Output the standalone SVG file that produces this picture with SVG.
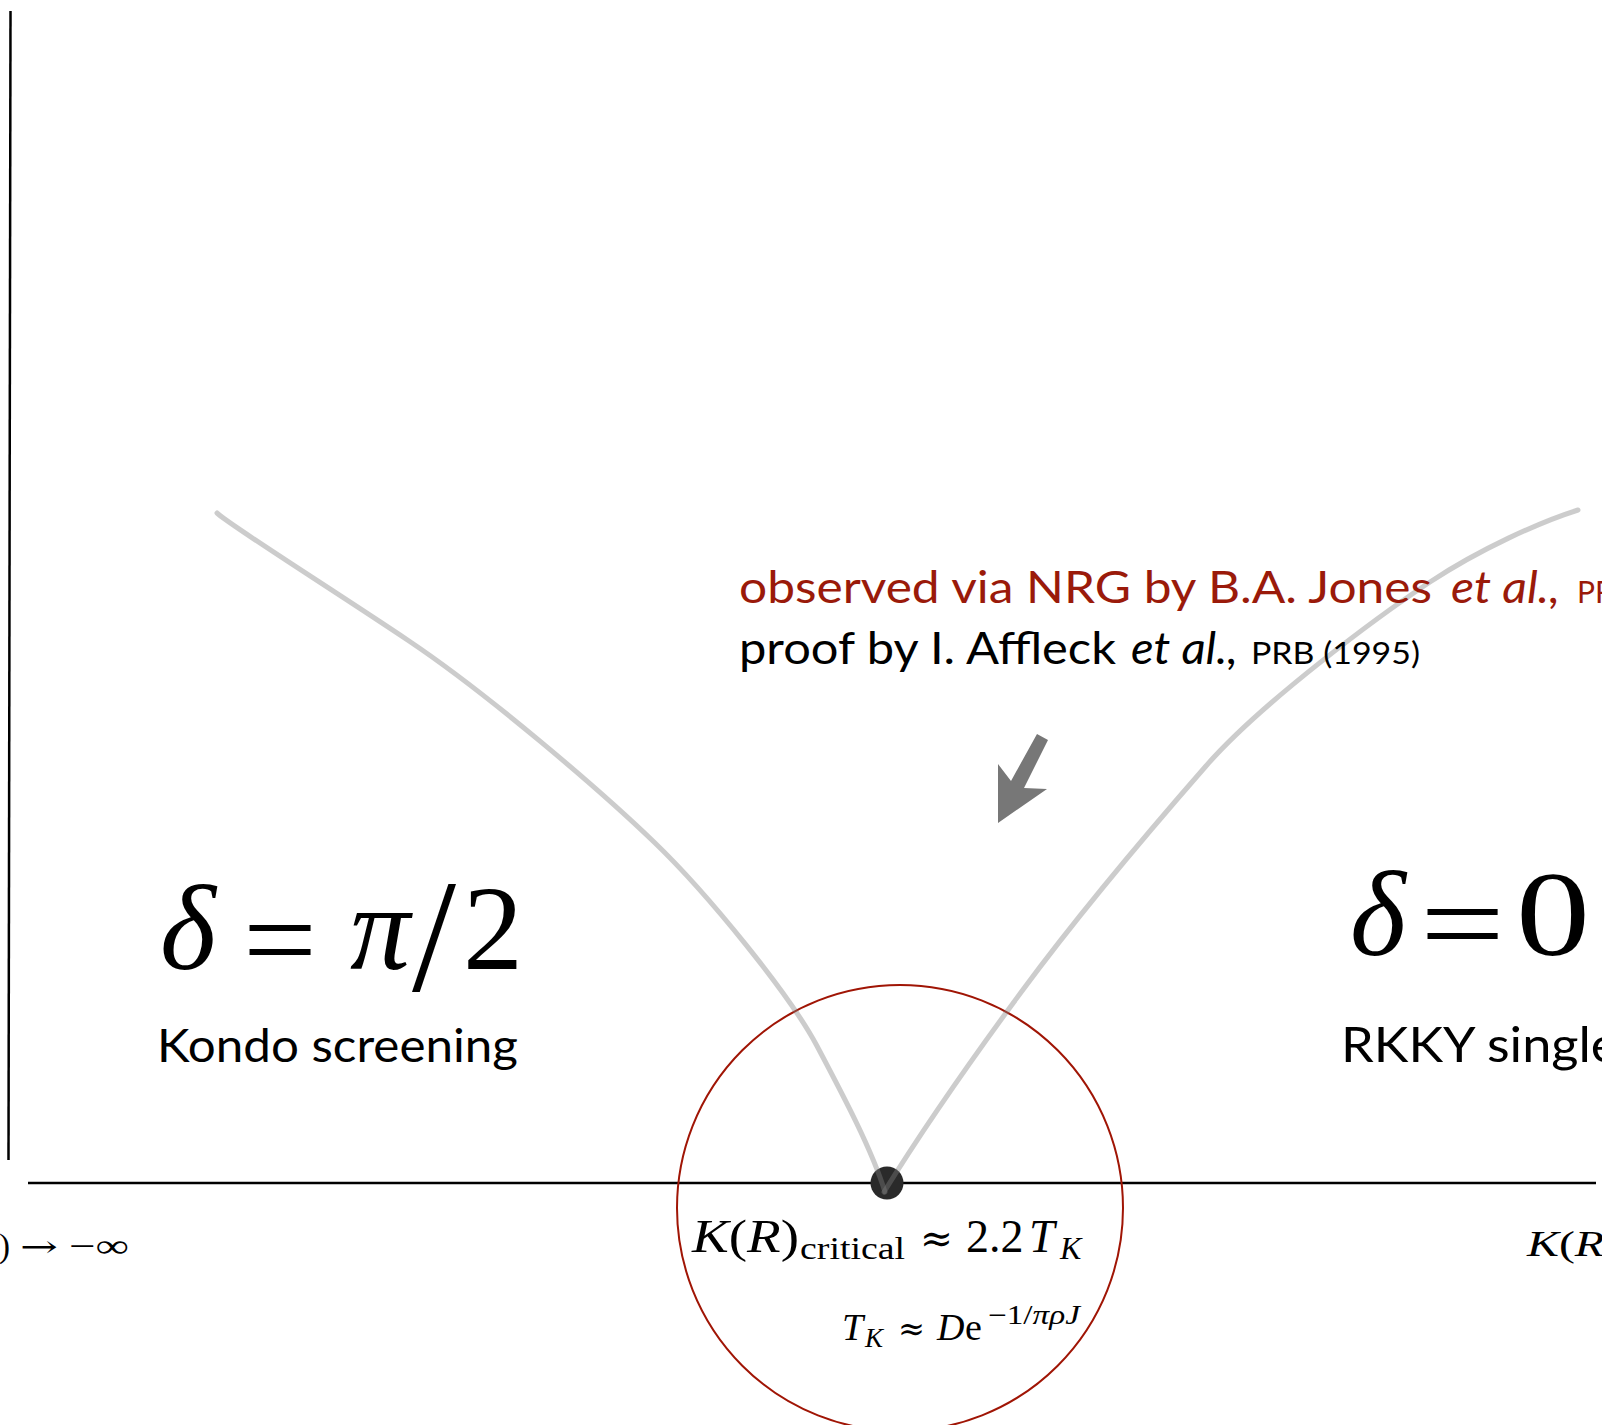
<svg xmlns="http://www.w3.org/2000/svg" width="1602" height="1425" viewBox="0 0 1602 1425">
<style>
.gs{font-family:Lato,"Open Sans","Noto Sans",sans-serif;}
.red{fill:#9a1a0a;}
.blk{fill:#000;}
.it{font-style:italic;}
.m{font-family:"Liberation Serif","DejaVu Serif",serif;fill:#000;}
.dv{font-family:"DejaVu Serif",serif;}
.mi{font-style:italic;}
.curve{fill:none;stroke:#808080;stroke-opacity:0.4;stroke-width:5;stroke-linecap:round;}
</style>
<rect width="1602" height="1425" fill="#fff"/>
<g id="axes">
<line x1="10.5" y1="11" x2="8.5" y2="1160" stroke="#000" stroke-width="2.5"/>
<line x1="28" y1="1183" x2="1596" y2="1183" stroke="#000" stroke-width="2.5"/>
</g>
<g id="critical-circle">
<circle cx="900" cy="1208" r="223" fill="none" stroke="#a01505" stroke-width="2"/>
</g>
<g id="critical-point">
<circle cx="887" cy="1183" r="16.5" fill="#2a2a2a"/>
</g>
<g id="connectors">
<path class="curve" d="M217,513 C225,522 330,588 409,641 S600,790 654,842 S790,995 817,1046 S872,1150 885,1192"/>
<path class="curve" d="M884,1192 C910,1150 960,1075 1022,991 S1150,830 1206,766 S1380,615 1430,582 S1540,522 1578,510"/>
<polygon points="998,823 998,764 1011,781 1037,734 1048,740 1024,788 1047,789" fill="#777"/>
</g>
<g id="reference-note">
<text class="gs red" x="739" y="603" font-size="45" textLength="693" lengthAdjust="spacingAndGlyphs">observed via NRG by B.A. Jones</text>
<text class="gs red it" x="1451" y="603" font-size="45" textLength="109" lengthAdjust="spacingAndGlyphs">et al.,</text>
<text class="gs red" x="1577" y="603" font-size="30">PR</text>
<text class="gs blk" x="739" y="664" font-size="45" textLength="377" lengthAdjust="spacingAndGlyphs">proof by I. Affleck</text>
<text class="gs blk it" x="1131" y="664" font-size="45" textLength="107" lengthAdjust="spacingAndGlyphs">et al.,</text>
<text class="gs blk" x="1251" y="664" font-size="31" textLength="169" lengthAdjust="spacingAndGlyphs">PRB (1995)</text>
</g>
<g id="kondo-phase">
<text class="m mi" x="160" y="969" font-size="120">δ</text>
<text class="m" x="243" y="980" font-size="120" textLength="74" lengthAdjust="spacingAndGlyphs">=</text>
<text class="m mi" x="350" y="969" font-size="120">π</text>
<text class="m" x="412" y="990" font-size="162" textLength="44" lengthAdjust="spacingAndGlyphs">/</text>
<text class="m" x="463" y="969" font-size="120">2</text>
<text class="gs blk" x="157" y="1062" font-size="46" textLength="361" lengthAdjust="spacingAndGlyphs">Kondo screening</text>
</g>
<g id="rkky-phase">
<text class="m mi" x="1350" y="955" font-size="120">δ</text>
<text class="m" x="1420" y="964" font-size="120" textLength="85" lengthAdjust="spacingAndGlyphs">=</text>
<text class="m" x="1516" y="955" font-size="120" textLength="74" lengthAdjust="spacingAndGlyphs">0</text>
<text class="gs blk" x="1341" y="1062" font-size="49" textLength="296" lengthAdjust="spacingAndGlyphs">RKKY singlet</text>
</g>
<g id="critical-label">
<text class="m" y="1252" font-size="46"><tspan x="692" textLength="107" lengthAdjust="spacingAndGlyphs"><tspan class="mi">K</tspan>(<tspan class="mi">R</tspan>)</tspan><tspan x="800" y="1259" font-size="32" textLength="105" lengthAdjust="spacingAndGlyphs">critical</tspan><tspan class="dv" x="920" y="1252" font-size="40" textLength="33" lengthAdjust="spacingAndGlyphs">≈</tspan><tspan x="966">2.2</tspan><tspan class="mi" x="1029">T</tspan><tspan class="mi" x="1060" y="1259" font-size="32">K</tspan></text>
<text class="m" y="1340" font-size="38"><tspan class="mi" x="842">T</tspan><tspan class="mi" x="865" y="1347" font-size="27">K</tspan><tspan class="dv" x="898" y="1340" font-size="33" textLength="27" lengthAdjust="spacingAndGlyphs">≈</tspan><tspan class="mi" x="937">D</tspan><tspan x="965">e</tspan><tspan x="988" y="1324" font-size="27" textLength="92" lengthAdjust="spacingAndGlyphs">−1/<tspan class="mi">πρJ</tspan></tspan></text>
</g>
<g id="axis-labels">
<text class="m" x="10" y="1257" font-size="33" text-anchor="end"><tspan class="mi">K</tspan>(<tspan class="mi">R</tspan>)</text>
<text class="m dv" x="20" y="1257" font-size="30" textLength="38" lengthAdjust="spacingAndGlyphs">→</text>
<text class="m" x="69" y="1257" font-size="33" textLength="60" lengthAdjust="spacingAndGlyphs">−∞</text>
<text class="m" y="1256" font-size="36"><tspan x="1527" textLength="93" lengthAdjust="spacingAndGlyphs"><tspan class="mi">K</tspan>(<tspan class="mi">R</tspan>)</tspan><tspan x="1632">→ +∞</tspan></text>
</g>
</svg>
